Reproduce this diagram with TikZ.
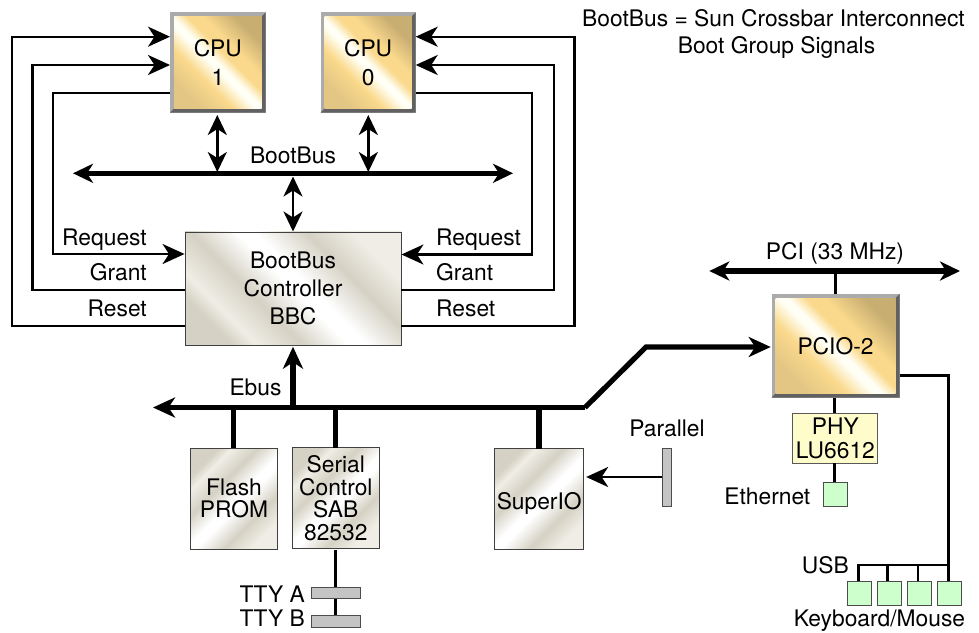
\documentclass[tikz,border=0pt]{standalone}
\usepackage{fontspec}
\setmainfont{TeX Gyre Heros}
\usetikzlibrary{arrows.meta,calc}
\definecolor{gA}{HTML}{E3C684}
\definecolor{gB}{HTML}{FAD98C}
\definecolor{gC}{HTML}{FFFFF5}
\definecolor{gD}{HTML}{C9AE72}
\definecolor{sA}{HTML}{EFEDE5}
\definecolor{sB}{HTML}{D5D1C4}
\definecolor{sC}{HTML}{FFFFFF}
\pgfdeclarehorizontalshading{goldsh}{100bp}{color(0bp)=(gA);color(25bp)=(gA);color(38bp)=(gB);color(47bp)=(gC);color(50bp)=(gC);color(56bp)=(gB);color(62bp)=(gB);color(75bp)=(gD);color(100bp)=(gD)}
\pgfdeclarehorizontalshading{silversh}{100bp}{color(0bp)=(sB);color(25bp)=(sB);color(30bp)=(sA);color(40bp)=(sB);color(50bp)=(sC);color(54bp)=(sC);color(65bp)=(sB);color(75bp)=(sA);color(100bp)=(sA)}
\tikzset{
  lbl/.style={font=\fontsize{22.8}{26}\selectfont,inner sep=0pt,anchor=base},
  thin line/.style={line width=2.4pt,line join=miter},
  med line/.style={line width=2.8pt},
  bus/.style={line width=5.2pt},
  big/.style={-{Stealth[length=22pt,width=20pt,inset=6.5pt]}},
  bigb/.style={{Stealth[length=20pt,width=19pt,inset=6pt]}-{Stealth[length=20pt,width=19pt,inset=6pt]}},
  chip/.style={shading=goldsh,shading angle=45,draw=none},
  silverbase/.style={draw=black!75,line width=0.9pt,inner sep=0pt,align=center},
  silverA/.style={silverbase,shading=silversh,shading angle=45},
  silverB/.style={silverbase,shading=silversh,shading angle=-45},
  greenbox/.style={fill=green!20!white,draw=black!70,line width=0.9pt,inner sep=0pt,minimum size=24pt},
  greybox/.style={fill=black!23,draw=black!70,line width=0.9pt,inner sep=0pt},
}
\newcommand{\goldbox}[6]{% name x0 y0 x1 y1 text
  \fill[black!33] (#2,#3) rectangle (#4,#5);
  \fill[black!62] (#4,#3) -- (#4,#5) -- (#2,#5) -- ($(#2,#5)+(4,-4)$) -- ($(#4,#5)+(-4,-4)$) -- ($(#4,#3)+(-4,4)$) -- cycle;
  \node[chip,minimum width=#4pt-#2pt-8pt,minimum height=#5pt-#3pt-8pt,inner sep=0pt,outer sep=4pt,align=center,font=\fontsize{22.8}{29}\selectfont] (#1) at ({(#2+#4)/2},{(#3+#5)/2}) {#6};
}
\begin{document}
\begin{tikzpicture}[x=1pt,y=-1pt]
\useasboundingbox (0,0) rectangle (979,632);
% CPU boxes
\goldbox{cpuB}{170}{12.3}{265.7}{112.7}{CPU\\1}
\goldbox{cpuA}{320.5}{12.3}{415.7}{112.7}{CPU\\0}
% BBC
\node[silverA,minimum width=216pt,minimum height=113.5pt,font=\fontsize{22.8}{28}\selectfont] (bbc) at (293,288.7) {BootBus\\Controller\\BBC};
% PCIO
\goldbox{pcio}{771.5}{294}{899.5}{397.5}{PCIO-2}
% lower boxes
\node[silverB,minimum width=86.6pt,minimum height=101.7pt,font=\fontsize{22.8}{22.5}\selectfont,text depth=3pt,text height=40pt] (flash) at (234,499) {\rule{0pt}{34pt}Flash\\PROM};
\node[silverB,minimum width=86.4pt,minimum height=101.7pt,font=\fontsize{22.8}{22.5}\selectfont] (serial) at (335.8,498) {Serial\\Control\\SAB\\82532};
\node[silverB,minimum width=89pt,minimum height=100.5pt,font=\fontsize{22.8}{26}\selectfont,text depth=0pt,text height=21pt] (super) at (539.2,499) {SuperIO};
\node[minimum width=85pt,minimum height=50pt,fill=yellow!20!white,draw=black!65,line width=0.9pt,align=center,font=\fontsize{22.8}{24}\selectfont,inner sep=0pt] (phy) at (835.3,438) {PHY\\LU6612};
% small end boxes
\node[greenbox] (eth) at (835,494.5) {};
\node[greenbox] (k1) at (859.3,593) {};
\node[greenbox] (k2) at (889,593) {};
\node[greenbox] (k3) at (919.6,593) {};
\node[greenbox] (k4) at (949.6,593) {};
\node[greybox,minimum width=49.5pt,minimum height=11.5pt] (ttya) at (335.8,593) {};
\node[greybox,minimum width=49.5pt,minimum height=11.5pt] (ttyb) at (335.8,621.5) {};
\node[greybox,minimum width=9.3pt,minimum height=58pt] (par) at (666.7,477) {};
% coordinates
\coordinate (bbus1) at (73,173.3);
\coordinate (bbus2) at (513,173.3);
\coordinate (ebusL) at (153,407.5);
\coordinate (ebusK) at (585,407.5);
\coordinate (ebusH) at (646,347);
\coordinate (pciL) at (709.3,271);
\coordinate (pciR) at (960,271);
% left wires
\draw[thin line,big] (bbc.west |- 0,326) -- (12,326) -- (12,36.7) -- (170,36.7);
\draw[thin line,big] (bbc.west |- 0,290) -- (32.3,290) -- (32.3,65) -- (170,65);
\draw[thin line,big] (170,93) -- (53,93) -- (53,254) -- (bbc.west |- 0,254);
% right wires
\draw[thin line,big] (bbc.east |- 0,326) -- (574.3,326) -- (574.3,36.7) -- (415.7,36.7);
\draw[thin line,big] (bbc.east |- 0,290) -- (553.7,290) -- (553.7,65) -- (415.7,65);
\draw[thin line,big] (415.7,93) -- (532,93) -- (532,254.5) -- (bbc.east |- 0,254.5);
% BootBus
\draw[bus,bigb] (bbus1) -- (bbus2);
\draw[thin line,bigb] (217.3,115) -- (217.3,172);
\draw[thin line,bigb] (368.3,115) -- (368.3,172);
\draw[thin line,bigb] (293,176.5) -- (293,231.5);
% Ebus
\draw[bus,big] (ebusK) -- (ebusL);
\draw[bus,line join=miter,big] (ebusK) -- (ebusH) -- (770.7,347);
\draw[bus,big] (293,405) -- (293,346.7);
\draw[bus] (233.7,407) -- (233.7,448);
\draw[bus] (335.7,407) -- (335.7,448);
\draw[bus] (539,407) -- (539,448.7);
% parallel
\draw[thin line,big,shorten >=2pt] (par.west) -- (par.west -| super.east);
% serial to tty
\draw[med line] (335.7,549.8) -- (ttya.north -| 335.7,0);
\draw[med line] (ttya.south) -- (ttyb.north);
% PCI
\draw[bus,bigb] (pciL) -- (pciR);
\draw[med line] (835.7,271) -- (835.7,294);
\draw[med line] (834.3,397.5) -- (834.3,413);
\draw[med line] (834.3,463) -- (834.3,482);
\draw[med line,line join=miter] (899.5,375.5) -- (948.3,375.5) -- (948.3,581);
\draw[med line,line join=miter] (948.3,565) -- (858.3,565) -- (858.3,581);
\draw[med line] (887.7,565) -- (887.7,581);
\draw[med line] (918,565) -- (918,581);
% labels
\node[lbl] (t1) at (773.5,26) {BootBus = Sun Crossbar Interconnect};
\node[lbl] (t2) at (776.5,53) {Boot Group Signals};
\node[lbl] (bb) at (293,163) {BootBus};
\node[lbl,anchor=base east] (l1) at (147,245.5) {Request};
\node[lbl,anchor=base east] (l2) at (147,280.5) {Grant};
\node[lbl,anchor=base east] (l3) at (147,316) {Reset};
\node[lbl,anchor=base west] (r1) at (436,245.5) {Request};
\node[lbl,anchor=base west] (r2) at (436,280.5) {Grant};
\node[lbl,anchor=base west] (r3) at (436,316) {Reset};
\node[lbl] (eb) at (255.5,395) {Ebus};
\node[lbl] (pa) at (667,436.5) {Parallel};
\node[lbl] (pc) at (835,259) {PCI (33 MHz)};
\node[lbl,anchor=base east] (et) at (810.5,504) {Ethernet};
\node[lbl,anchor=base east] (us) at (849,573) {USB};
\node[lbl] (km) at (879.5,626.5) {Keyboard/Mouse};
\node[lbl,anchor=base east] (ta) at (305,602) {TTY A};
\node[lbl,anchor=base east] (tb) at (305,626) {TTY B};
\end{tikzpicture}
\end{document}
